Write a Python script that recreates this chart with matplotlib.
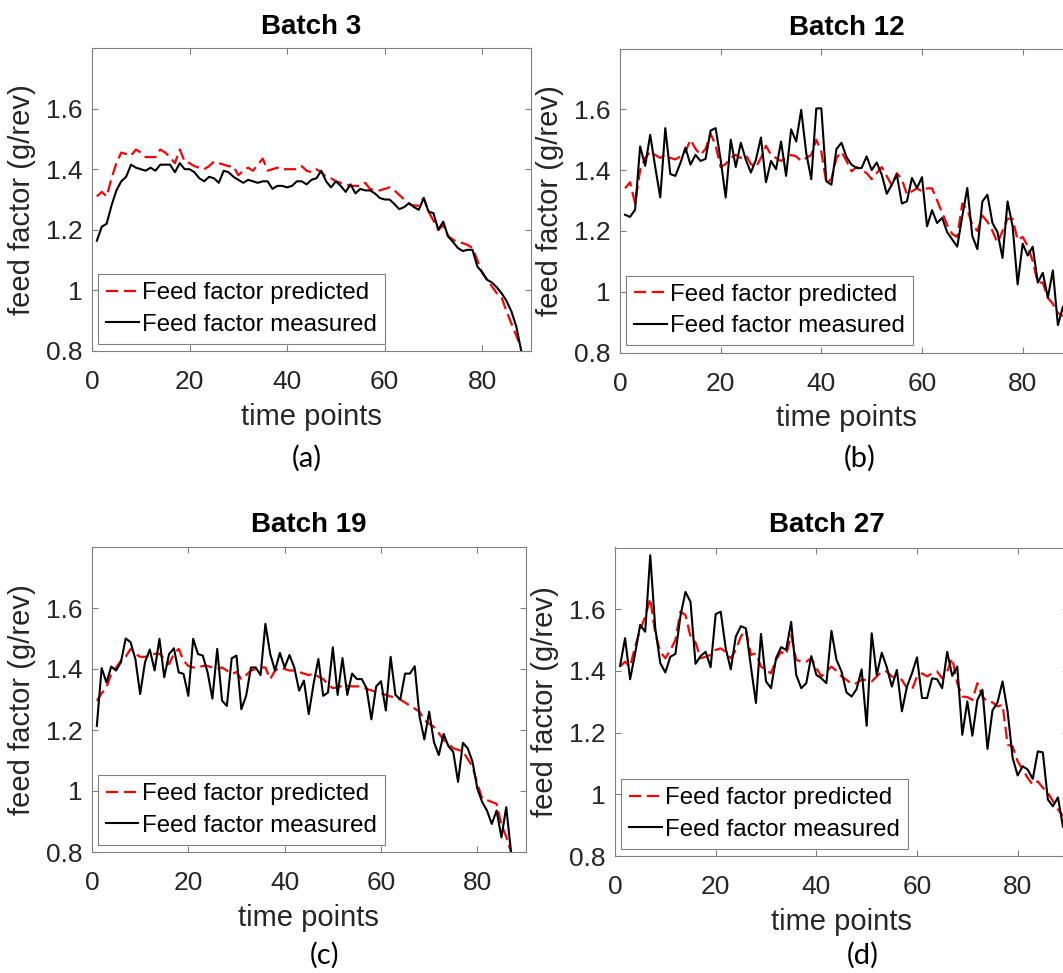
import numpy as np
import matplotlib
matplotlib.use("Agg")
import matplotlib.pyplot as plt

# --- data (feed factor, g/rev) ---
batch3_measured = [
    1.164, 1.21, 1.22, 1.28, 1.33, 1.36, 1.375, 1.415, 1.405, 1.40,
    1.395, 1.405, 1.395, 1.415, 1.415, 1.415, 1.39, 1.42, 1.40, 1.40,
    1.39, 1.37, 1.36, 1.375, 1.37, 1.355, 1.395, 1.39, 1.375, 1.365,
    1.355, 1.365, 1.36, 1.355, 1.36, 1.36, 1.335, 1.345, 1.345, 1.34,
    1.345, 1.36, 1.36, 1.35, 1.365, 1.37, 1.395, 1.36, 1.34, 1.36,
    1.345, 1.325, 1.35, 1.32, 1.335, 1.33, 1.33, 1.32, 1.305, 1.30,
    1.30, 1.285, 1.268, 1.275, 1.288, 1.275, 1.266, 1.305, 1.26, 1.255,
    1.20, 1.227, 1.178, 1.16, 1.14, 1.13, 1.134, 1.134, 1.079, 1.06,
    1.035, 1.026, 1.01, 0.99, 0.965, 0.93, 0.88, 0.80]
batch3_predicted = [
    1.31, 1.325, 1.31, 1.37, 1.42, 1.455, 1.45, 1.445, 1.465, 1.455,
    1.44, 1.44, 1.44, 1.465, 1.455, 1.44, 1.42, 1.465, 1.425, 1.42,
    1.41, 1.405, 1.40, 1.41, 1.425, 1.42, 1.415, 1.41, 1.41, 1.38,
    1.395, 1.405, 1.395, 1.415, 1.435, 1.395, 1.40, 1.405, 1.40, 1.40,
    1.40, 1.40, 1.41, 1.395, 1.39, 1.40, 1.39, 1.375, 1.37, 1.36,
    1.355, 1.35, 1.345, 1.345, 1.345, 1.355, 1.335, 1.33, 1.33, 1.335,
    1.34, 1.33, 1.315, 1.30, 1.285, 1.28, 1.28, 1.305, 1.26, 1.23,
    1.20, 1.215, 1.18, 1.167, 1.16, 1.156, 1.15, 1.14, 1.10, 1.057,
    1.035, 1.013, 0.99, 0.975, 0.93, 0.89, 0.85, 0.81]

batch12_measured = [
    1.253, 1.246, 1.27, 1.478, 1.414, 1.516, 1.41, 1.31, 1.538, 1.387,
    1.381, 1.423, 1.474, 1.418, 1.45, 1.43, 1.437, 1.53, 1.538, 1.434,
    1.31, 1.50, 1.41, 1.49, 1.434, 1.392, 1.434, 1.507, 1.36, 1.43,
    1.403, 1.494, 1.381, 1.534, 1.494, 1.598, 1.456, 1.37, 1.603, 1.603,
    1.363, 1.352, 1.469, 1.49, 1.443, 1.418, 1.407, 1.407, 1.445, 1.40,
    1.425, 1.385, 1.322, 1.352, 1.385, 1.29, 1.297, 1.374, 1.341, 1.377,
    1.215, 1.268, 1.226, 1.243, 1.196, 1.172, 1.148, 1.248, 1.341, 1.183,
    1.14, 1.297, 1.319, 1.226, 1.196, 1.111, 1.297, 1.215, 1.024, 1.158,
    1.119, 1.148, 1.03, 1.062, 0.98, 1.07, 0.89, 0.95]
batch12_predicted = [
    1.34, 1.36, 1.29, 1.40, 1.44, 1.46, 1.45, 1.44, 1.45, 1.44,
    1.435, 1.445, 1.46, 1.50, 1.47, 1.45, 1.47, 1.52, 1.48, 1.41,
    1.42, 1.44, 1.45, 1.44, 1.45, 1.42, 1.41, 1.44, 1.48, 1.45,
    1.44, 1.43, 1.44, 1.45, 1.445, 1.43, 1.44, 1.45, 1.50, 1.46,
    1.357, 1.37, 1.44, 1.46, 1.43, 1.396, 1.41, 1.40, 1.39, 1.37,
    1.39, 1.41, 1.38, 1.35, 1.39, 1.37, 1.32, 1.33, 1.34, 1.33,
    1.34, 1.34, 1.30, 1.26, 1.22, 1.19, 1.18, 1.29, 1.27, 1.22,
    1.20, 1.25, 1.23, 1.20, 1.16, 1.20, 1.24, 1.24, 1.17, 1.18,
    1.15, 1.10, 1.03, 1.03, 0.98, 0.96, 0.93, 0.92]

batch19_measured = [
    1.213, 1.403, 1.356, 1.408, 1.395, 1.422, 1.50, 1.488, 1.433, 1.318,
    1.422, 1.464, 1.395, 1.499, 1.373, 1.449, 1.468, 1.389, 1.384, 1.312,
    1.499, 1.449, 1.444, 1.389, 1.303, 1.466, 1.296, 1.279, 1.435, 1.444,
    1.268, 1.312, 1.405, 1.405, 1.38, 1.548, 1.449, 1.395, 1.453, 1.405,
    1.446, 1.405, 1.329, 1.362, 1.252, 1.351, 1.433, 1.312, 1.323, 1.471,
    1.315, 1.436, 1.315, 1.385, 1.367, 1.367, 1.337, 1.235, 1.343, 1.36,
    1.264, 1.44, 1.315, 1.30, 1.385, 1.385, 1.409, 1.244, 1.169, 1.26,
    1.16, 1.118, 1.187, 1.147, 1.128, 1.03, 1.158, 1.14, 1.096, 1.008,
    0.964, 0.936, 0.892, 0.936, 0.848, 0.947, 0.80, 0.74]
batch19_predicted = [
    1.296, 1.32, 1.34, 1.384, 1.405, 1.427, 1.44, 1.466, 1.45, 1.44,
    1.44, 1.44, 1.45, 1.45, 1.433, 1.416, 1.45, 1.466, 1.427, 1.41,
    1.405, 1.405, 1.41, 1.41, 1.405, 1.40, 1.405, 1.395, 1.384, 1.39,
    1.367, 1.38, 1.395, 1.40, 1.405, 1.405, 1.367, 1.395, 1.405, 1.40,
    1.395, 1.395, 1.39, 1.385, 1.38, 1.385, 1.375, 1.367, 1.35, 1.337,
    1.34, 1.345, 1.345, 1.343, 1.343, 1.343, 1.335, 1.33, 1.325, 1.32,
    1.315, 1.31, 1.305, 1.30, 1.29, 1.28, 1.27, 1.26, 1.233, 1.22,
    1.21, 1.19, 1.167, 1.155, 1.14, 1.135, 1.13, 1.105, 1.08, 1.024,
    0.975, 0.97, 0.964, 0.958, 0.89, 0.85, 0.80, 0.76]

batch27_measured = [
    1.416, 1.506, 1.373, 1.457, 1.549, 1.527, 1.775, 1.538, 1.425, 1.395,
    1.446, 1.455, 1.578, 1.656, 1.624, 1.423, 1.448, 1.462, 1.412, 1.584,
    1.592, 1.473, 1.405, 1.511, 1.545, 1.538, 1.414, 1.296, 1.52, 1.366,
    1.344, 1.441, 1.477, 1.468, 1.559, 1.387, 1.344, 1.36, 1.448, 1.387,
    1.376, 1.36, 1.53, 1.436, 1.398, 1.33, 1.317, 1.341, 1.405, 1.222,
    1.522, 1.387, 1.459, 1.412, 1.349, 1.403, 1.269, 1.349, 1.392, 1.444,
    1.312, 1.312, 1.376, 1.373, 1.344, 1.462, 1.384, 1.414, 1.193, 1.301,
    1.19, 1.306, 1.339, 1.147, 1.272, 1.298, 1.366, 1.269, 1.118, 1.061,
    1.091, 1.08, 1.05, 1.139, 1.136, 0.983, 0.961, 0.99, 0.895]
batch27_predicted = [
    1.414, 1.43, 1.414, 1.479, 1.533, 1.576, 1.635, 1.522, 1.462, 1.441,
    1.468, 1.50, 1.592, 1.581, 1.511, 1.492, 1.441, 1.446, 1.452, 1.468,
    1.473, 1.462, 1.441, 1.468, 1.511, 1.533, 1.452, 1.457, 1.414, 1.403,
    1.392, 1.436, 1.462, 1.452, 1.516, 1.436, 1.43, 1.43, 1.441, 1.409,
    1.382, 1.398, 1.414, 1.40, 1.382, 1.371, 1.358, 1.36, 1.371, 1.371,
    1.366, 1.382, 1.398, 1.398, 1.382, 1.376, 1.371, 1.344, 1.339, 1.382,
    1.392, 1.382, 1.392, 1.398, 1.376, 1.398, 1.441, 1.36, 1.317, 1.315,
    1.306, 1.36, 1.317, 1.30, 1.298, 1.285, 1.29, 1.161, 1.155, 1.107,
    1.08, 1.053, 1.031, 1.042, 1.021, 1.005, 0.978, 0.951, 0.93]

titles = ["Batch 3", "Batch 12", "Batch 19", "Batch 27"]
captions = ["(a)", "(b)", "(c)", "(d)"]
measured = [batch3_measured, batch12_measured, batch19_measured, batch27_measured]
predicted = [batch3_predicted, batch12_predicted, batch19_predicted, batch27_predicted]

# --- figure layout (pixel boxes, the right column is cropped by the page edge) ---
W, H = 1063, 973
fig = plt.figure(figsize=(W / 100, H / 100), dpi=100)
plt.rcParams['font.family'] = ['Liberation Sans', 'DejaVu Sans']

boxes = [(92, 531, 48, 351), (620, 1073, 48.5, 352.5),
         (92, 525.5, 547, 852), (615, 1068, 547.5, 856)]
cap_pos = [(307, 458), (860, 458), (325, 955), (863, 955)]
title_x = [0.5, 0.5, 0.5, 0.467]

axis_grey = '#808080'
text_grey = '#262626'

for k in range(4):
    l, r, t, b = boxes[k]
    ax = fig.add_axes([l / W, 1 - b / H, (r - l) / W, (b - t) / H])
    x = np.arange(1, len(measured[k]) + 1)
    ax.plot(x, predicted[k], color='red', lw=1.6, linestyle=(0, (5.5, 2.5)),
            label='Feed factor predicted')
    ax.plot(x, measured[k], color='black', lw=1.5, label='Feed factor measured')

    ax.set_xlim(0, 90)
    ax.set_ylim(0.8, 1.8)
    ax.set_xticks([0, 20, 40, 60, 80])
    ax.set_yticks([0.8, 1.0, 1.2, 1.4, 1.6])
    ax.set_yticklabels(['0.8', '1', '1.2', '1.4', '1.6'])
    ax.tick_params(direction='in', length=4, width=0.8, color=axis_grey,
                   top=True, right=True, labelsize=19, labelcolor=text_grey)
    ax.tick_params(axis='x', pad=14)
    ax.tick_params(axis='y', pad=7)
    for s in ax.spines.values():
        s.set_color(axis_grey)
        s.set_linewidth(0.8)

    ax.set_xlabel('time points', fontsize=21, color=text_grey, labelpad=6)
    ax.set_ylabel('feed factor (g/rev)', fontsize=21, color=text_grey, labelpad=7)
    ax.set_title(titles[k], fontsize=20, fontweight='bold', x=title_x[k],
                 pad=10 if k < 2 else 11)

    leg = ax.legend(loc='lower left', bbox_to_anchor=(0.014, 0.024),
                    borderaxespad=0, fontsize=17.3, handlelength=1.35,
                    handletextpad=0.15, labelspacing=0.4, borderpad=0.33,
                    fancybox=False, framealpha=1, edgecolor=axis_grey)
    leg.get_frame().set_linewidth(0.8)

    fig.text(cap_pos[k][0] / W, 1 - cap_pos[k][1] / H, captions[k],
             ha='center', va='center', fontsize=21, family=['Lato', 'DejaVu Sans'])

fig.savefig('out.png', dpi=100)
